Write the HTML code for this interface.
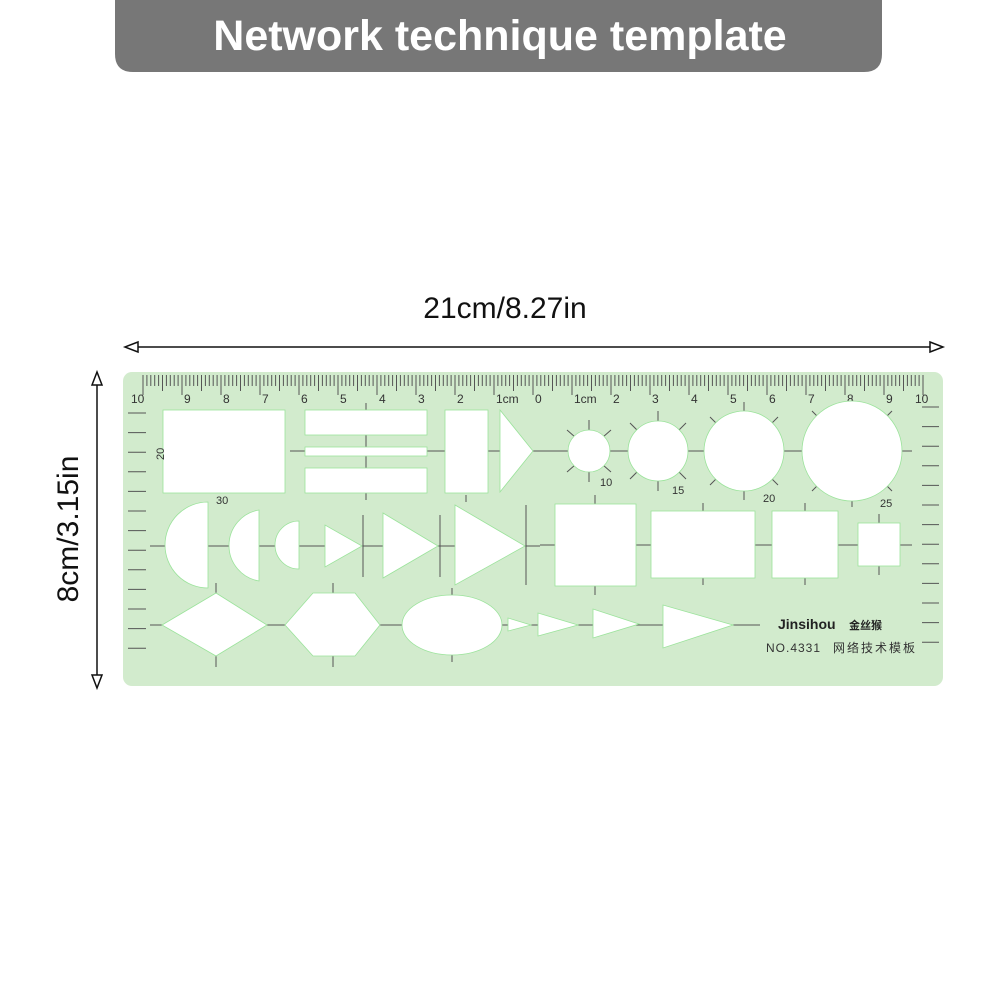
<!DOCTYPE html>
<html><head><meta charset="utf-8">
<style>
html,body{margin:0;padding:0;background:#fff;width:1000px;height:1000px;overflow:hidden}
svg{display:block}
text{font-family:"Liberation Sans","Noto Sans CJK SC",sans-serif}
</style></head><body>
<svg id="s" width="1000" height="1000" viewBox="0 0 1000 1000" xmlns="http://www.w3.org/2000/svg">
<path d="M115 0 H882 V54 Q882 72 864 72 H133 Q115 72 115 54 Z" fill="#777"/>
<text x="500" y="50" text-anchor="middle" font-size="43" font-weight="bold" fill="#fff">Network technique template</text>
<text x="505" y="318" text-anchor="middle" font-size="30" fill="#111">21cm/8.27in</text>
<line x1="128" y1="347" x2="940" y2="347" stroke="#111" stroke-width="1.5"/>
<path d="M138 342 L125 347 L138 352 Z" fill="#fff" stroke="#111" stroke-width="1.5"/>
<path d="M930 342 L943 347 L930 352 Z" fill="#fff" stroke="#111" stroke-width="1.5"/>
<line x1="97" y1="376" x2="97" y2="683" stroke="#111" stroke-width="1.5"/>
<path d="M92 385 L97 372 L102 385 Z" fill="#fff" stroke="#111" stroke-width="1.5"/>
<path d="M92 675 L97 688 L102 675 Z" fill="#fff" stroke="#111" stroke-width="1.5"/>
<text transform="translate(78,529) rotate(-90)" text-anchor="middle" font-size="30" fill="#111">8cm/3.15in</text>
<rect x="123" y="372" width="820" height="314" rx="9" fill="#d2ebcd"/>
<g id="ticks" stroke="#555" stroke-width="1"></g>
<g id="nums" font-size="12" fill="#333"></g>
<g stroke="#555" stroke-width="1">
<line x1="150" y1="546" x2="540" y2="546"/><line x1="150" y1="625" x2="760" y2="625"/>
<line x1="290" y1="451" x2="540" y2="451"/><line x1="540" y1="451" x2="912" y2="451"/>
<line x1="540" y1="545" x2="912" y2="545"/>
<line x1="366" y1="403" x2="366" y2="500"/><line x1="466" y1="495" x2="466" y2="502"/>
<line x1="363" y1="515" x2="363" y2="577"/><line x1="440" y1="515" x2="440" y2="577"/><line x1="526" y1="505" x2="526" y2="585"/>
<line x1="216" y1="583" x2="216" y2="667"/><line x1="333" y1="583" x2="333" y2="667"/><line x1="452" y1="588" x2="452" y2="662"/>
<line x1="595" y1="495" x2="595" y2="595"/><line x1="703" y1="503" x2="703" y2="585"/><line x1="805" y1="503" x2="805" y2="585"/><line x1="879" y1="514" x2="879" y2="575"/>
<line x1="589" y1="420" x2="589" y2="482"/><line x1="658" y1="411" x2="658" y2="491"/><line x1="744" y1="402" x2="744" y2="500"/><line x1="852" y1="395" x2="852" y2="507"/>
<line x1="567" y1="430" x2="575" y2="437"/><line x1="611" y1="430" x2="603" y2="437"/><line x1="567" y1="472" x2="575" y2="465"/><line x1="611" y1="472" x2="603" y2="465"/>
<line x1="630" y1="423" x2="639" y2="432"/><line x1="686" y1="423" x2="677" y2="432"/><line x1="630" y1="479" x2="639" y2="470"/><line x1="686" y1="479" x2="677" y2="470"/>
<line x1="710" y1="417" x2="718" y2="425"/><line x1="778" y1="417" x2="770" y2="425"/><line x1="710" y1="485" x2="718" y2="477"/><line x1="778" y1="485" x2="770" y2="477"/>
<line x1="812" y1="411" x2="820" y2="419"/><line x1="892" y1="411" x2="884" y2="419"/><line x1="812" y1="491" x2="820" y2="483"/><line x1="892" y1="491" x2="884" y2="483"/>
</g>
<g fill="#fff" stroke="#9be39b" stroke-width="0.8">
<rect x="163" y="410" width="122" height="83"/>
<rect x="305" y="410" width="122" height="25"/><rect x="305" y="447" width="122" height="9"/><rect x="305" y="468" width="122" height="25"/>
<rect x="445" y="410" width="43" height="83"/>
<path d="M500 410 L500 492 L533 451 Z"/>
<path d="M208 502 A43 43 0 0 0 208 588 Z"/>
<path d="M259 510 A36 36 0 0 0 259 581 Z"/>
<path d="M299 521 A24 24 0 0 0 299 569 Z"/>
<path d="M325 525 L325 567 L362 546 Z"/>
<path d="M383 513 L383 578 L438 546 Z"/>
<path d="M455 505 L455 585 L525 546 Z"/>
<path d="M162 625 L216 593 L267 625 L216 656 Z"/>
<path d="M285 625 L313 593 L355 593 L380 625 L355 656 L313 656 Z"/>
<ellipse cx="452" cy="625" rx="50" ry="30"/>
<path d="M508 618 L508 631 L531 625 Z"/>
<path d="M538 613 L538 636 L578 625 Z"/>
<path d="M593 609 L593 638 L639 624 Z"/>
<path d="M663 605 L663 648 L733 625 Z"/>
<circle cx="589" cy="451" r="21"/><circle cx="658" cy="451" r="30"/><circle cx="744" cy="451" r="40"/><circle cx="852" cy="451" r="50"/>
<rect x="555" y="504" width="81" height="82"/><rect x="651" y="511" width="104" height="67"/><rect x="772" y="511" width="66" height="67"/><rect x="858" y="523" width="42" height="43"/>
</g>
<g font-size="11" fill="#333">
<text x="600" y="486">10</text><text x="672" y="494">15</text><text x="763" y="502">20</text><text x="880" y="507">25</text>
<text x="216" y="504">30</text>
<text transform="translate(164,460) rotate(-90)">20</text>
</g>
<text x="778" y="629" font-size="14" font-weight="bold" fill="#222">Jinsihou</text>
<text x="849" y="629" font-size="11" font-weight="bold" fill="#222">金丝猴</text>
<text x="766" y="652" font-size="12" fill="#333" letter-spacing="1">NO.4331</text>
<text x="833" y="652" font-size="12" fill="#333" letter-spacing="2">网络技术模板</text>
</svg>
<script>
var NS="http://www.w3.org/2000/svg",t=document.getElementById('ticks'),n=document.getElementById('nums');
function L(x1,y1,x2,y2){var l=document.createElementNS(NS,'line');l.setAttribute('x1',x1);l.setAttribute('y1',y1);l.setAttribute('x2',x2);l.setAttribute('y2',y2);t.appendChild(l);}
for(var i=-100;i<=100;i++){var x=533+i*3.9;var h=(i%10==0)?20:(i%5==0?16:11);L(x,375,x,375+h);}
var labs={"-10":"10","-9":"9","-8":"8","-7":"7","-6":"6","-5":"5","-4":"4","-3":"3","-2":"2","-1":"1cm","0":"0","1":"1cm","2":"2","3":"3","4":"4","5":"5","6":"6","7":"7","8":"8","9":"9","10":"10"};
for(var k=-10;k<=10;k++){var tx=document.createElementNS(NS,'text');var x=533+k*39;tx.setAttribute('x',k==-10?x-12:(k==10?x-8:x+2));tx.setAttribute('y',403);tx.textContent=labs[k];n.appendChild(tx);}
for(var j=0;j<13;j++){var y=413+j*19.6;L(128,y,146,y);L(922,y-6,939,y-6);}
</script>
</body></html>
